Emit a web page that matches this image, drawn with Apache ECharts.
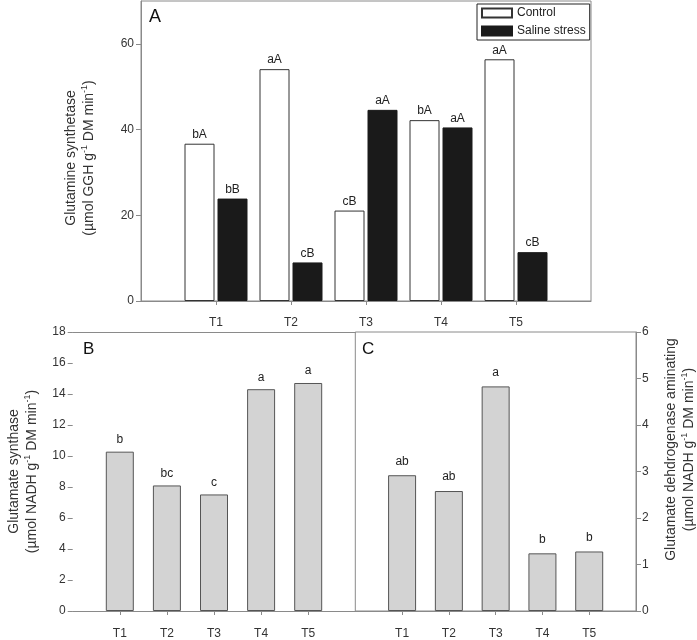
<!DOCTYPE html>
<html>
<head>
<meta charset="utf-8">
<script src="https://cdn.jsdelivr.net/npm/echarts@6/dist/echarts.min.js"></script>
<style>html,body{margin:0;padding:0;background:#fff}#c{width:697px;height:640px}</style>
</head>
<body>
<div id="c"></div>
<script>
// ---- data ----
const categories = ['T1', 'T2', 'T3', 'T4', 'T5'];
const gsControl = [36.7, 54.1, 21.1, 42.2, 56.4];
const gsSaline = [23.9, 9.0, 44.6, 40.5, 11.4];
const gsControlLetters = ['bA', 'aA', 'cB', 'bA', 'aA'];
const gsSalineLetters = ['bB', 'cB', 'aA', 'aA', 'cB'];
const gogat = [10.28, 8.1, 7.52, 14.31, 14.71];
const gogatLetters = ['b', 'bc', 'c', 'a', 'a'];
const gdh = [2.92, 2.58, 4.83, 1.24, 1.28];
const gdhLetters = ['ab', 'ab', 'a', 'b', 'b'];
const ticksA = [0, 20, 40, 60];
const ticksB = [0, 2, 4, 6, 8, 10, 12, 14, 16, 18];
const ticksC = [0, 1, 2, 3, 4, 5, 6];

// padded category axis: empty slot at each end
const cats = [''].concat(categories, ['']);
const pad = arr => [null].concat(arr, [null]);
const showTick = i => i >= 1 && i <= categories.length;

const FONT = '"Liberation Sans", Arial, Helvetica, sans-serif';
const AXIS = '#8a8a8a';
const TXT = '#333';

function xCat(gridIndex, margin) {
  return {
    type: 'category', gridIndex, data: cats, boundaryGap: false,
    axisLine: { lineStyle: { color: AXIS } },
    axisTick: { show: true, length: 4, interval: showTick, lineStyle: { color: AXIS } },
    axisLabel: { interval: showTick, margin: margin, color: TXT, fontSize: 12, fontFamily: FONT },
    splitLine: { show: false }
  };
}
function richName(l1, l2) {
  return '{a|' + l1 + '}\n{a|' + l2[0] + '}{s|-1}{a|' + l2[1] + '}{s|-1}{a|)}';
}
const nameRich = {
  a: { fontSize: 14, fontFamily: FONT, color: TXT, lineHeight: 18 },
  s: { fontSize: 9, fontFamily: FONT, color: TXT, verticalAlign: 'top', lineHeight: 18 }
};

const option = {
  animation: false,
  backgroundColor: '#fff',
  textStyle: { fontFamily: FONT },
  title: [
    { text: 'A', left: 144, top: 3, textStyle: { fontSize: 18, fontWeight: 'normal', color: '#111', fontFamily: FONT } },
    { text: 'B', left: 78, top: 336, textStyle: { fontSize: 17, fontWeight: 'normal', color: '#111', fontFamily: FONT } },
    { text: 'C', left: 357, top: 336, textStyle: { fontSize: 17, fontWeight: 'normal', color: '#111', fontFamily: FONT } }
  ],
  legend: {
    data: ['Control', 'Saline stress'],
    orient: 'vertical', left: 477, top: 4,
    itemWidth: 30, itemHeight: 9, itemGap: 6, itemTextGap: 4,
    padding: [3, 4, 3, 4],
    borderColor: '#222', borderWidth: 1,
    textStyle: { fontSize: 12, color: '#222', fontFamily: FONT },
    icon: 'rect'
  },
  grid: [
    { left: 141, top: 1, width: 450, height: 300, show: true, borderColor: AXIS, borderWidth: 1, backgroundColor: 'transparent' },
    { left: 72.7, top: 332, width: 282.6, height: 281.3 },
    { left: 355.3, top: 332, width: 281.4, height: 281.3, show: true, borderColor: AXIS, borderWidth: 1, backgroundColor: 'transparent' }
  ],
  xAxis: [
    xCat(0, 16),
    xCat(1, 17),
    xCat(2, 17),
    { type: 'category', gridIndex: 1, position: 'top', data: cats, boundaryGap: false,
      axisLine: { lineStyle: { color: AXIS } }, axisTick: { show: false }, axisLabel: { show: false } }
  ],
  yAxis: [
    { type: 'value', gridIndex: 0, min: 0, max: 70, interval: 20,
      axisLine: { show: true, lineStyle: { color: AXIS } },
      axisTick: { show: true, length: 5, lineStyle: { color: AXIS }, customValues: ticksA },
      axisLabel: { customValues: ticksA, margin: 7, color: TXT, fontSize: 12, fontFamily: FONT },
      splitLine: { show: false },
      name: richName('Glutamine synthetase', ['(µmol GGH g', ' DM min']),
      nameLocation: 'middle', nameGap: 43, nameRotate: 90,
      nameTextStyle: { rich: nameRich, padding: [0, 14, 0, 0] }
    },
    { type: 'value', gridIndex: 1, min: 0, max: 18, interval: 2,
      axisLine: { show: false },
      axisTick: { show: true, length: 5, lineStyle: { color: AXIS }, customValues: ticksB },
      axisLabel: { customValues: ticksB, margin: 7, color: TXT, fontSize: 12, fontFamily: FONT },
      splitLine: { show: false },
      name: richName('Glutamate synthase', ['(µmol NADH g', ' DM min']),
      nameLocation: 'middle', nameGap: 32, nameRotate: 90,
      nameTextStyle: { rich: nameRich }
    },
    { type: 'value', gridIndex: 2, position: 'right', min: 0, max: 6, interval: 1,
      axisLine: { show: true, lineStyle: { color: AXIS } },
      axisTick: { show: true, length: 5, lineStyle: { color: AXIS }, customValues: ticksC },
      axisLabel: { customValues: ticksC, margin: 6, color: TXT, fontSize: 12, fontFamily: FONT },
      splitLine: { show: false },
      name: richName('Glutamate dehdrogenase aminating', ['(µmol NADH g', ' DM min']),
      nameLocation: 'middle', nameGap: 26, nameRotate: 90,
      nameTextStyle: { rich: nameRich, padding: [0, 0, 0, 44] }
    }
  ],
  series: [
    { name: 'Control', type: 'bar', xAxisIndex: 0, yAxisIndex: 0, data: pad(gsControl),
      barWidth: 30, barGap: '10%',
      itemStyle: { color: '#fff', borderColor: '#333', borderWidth: 1 },
      label: { show: true, position: 'top', distance: 3, fontSize: 12, color: '#222',
        formatter: p => gsControlLetters[p.dataIndex - 1] } },
    { name: 'Saline stress', type: 'bar', xAxisIndex: 0, yAxisIndex: 0, data: pad(gsSaline),
      barWidth: 30, barGap: '10%',
      itemStyle: { color: '#1a1a1a', borderColor: '#1a1a1a', borderWidth: 1 },
      label: { show: true, position: 'top', distance: 3, fontSize: 12, color: '#222',
        formatter: p => gsSalineLetters[p.dataIndex - 1] } },
    { name: 'GOGAT', type: 'bar', xAxisIndex: 1, yAxisIndex: 1, data: pad(gogat),
      barWidth: 28,
      itemStyle: { color: '#d3d3d3', borderColor: '#555', borderWidth: 1 },
      label: { show: true, position: 'top', distance: 6, fontSize: 12, color: '#222',
        formatter: p => gogatLetters[p.dataIndex - 1] } },
    { name: 'GDH', type: 'bar', xAxisIndex: 2, yAxisIndex: 2, data: pad(gdh),
      barWidth: 28,
      itemStyle: { color: '#d3d3d3', borderColor: '#555', borderWidth: 1 },
      label: { show: true, position: 'top', distance: 8, fontSize: 12, color: '#222',
        formatter: p => gdhLetters[p.dataIndex - 1] } }
  ]
};
const chart = echarts.init(document.getElementById('c'), null, { renderer: 'canvas' });
chart.setOption(option);
</script>
</body>
</html>
